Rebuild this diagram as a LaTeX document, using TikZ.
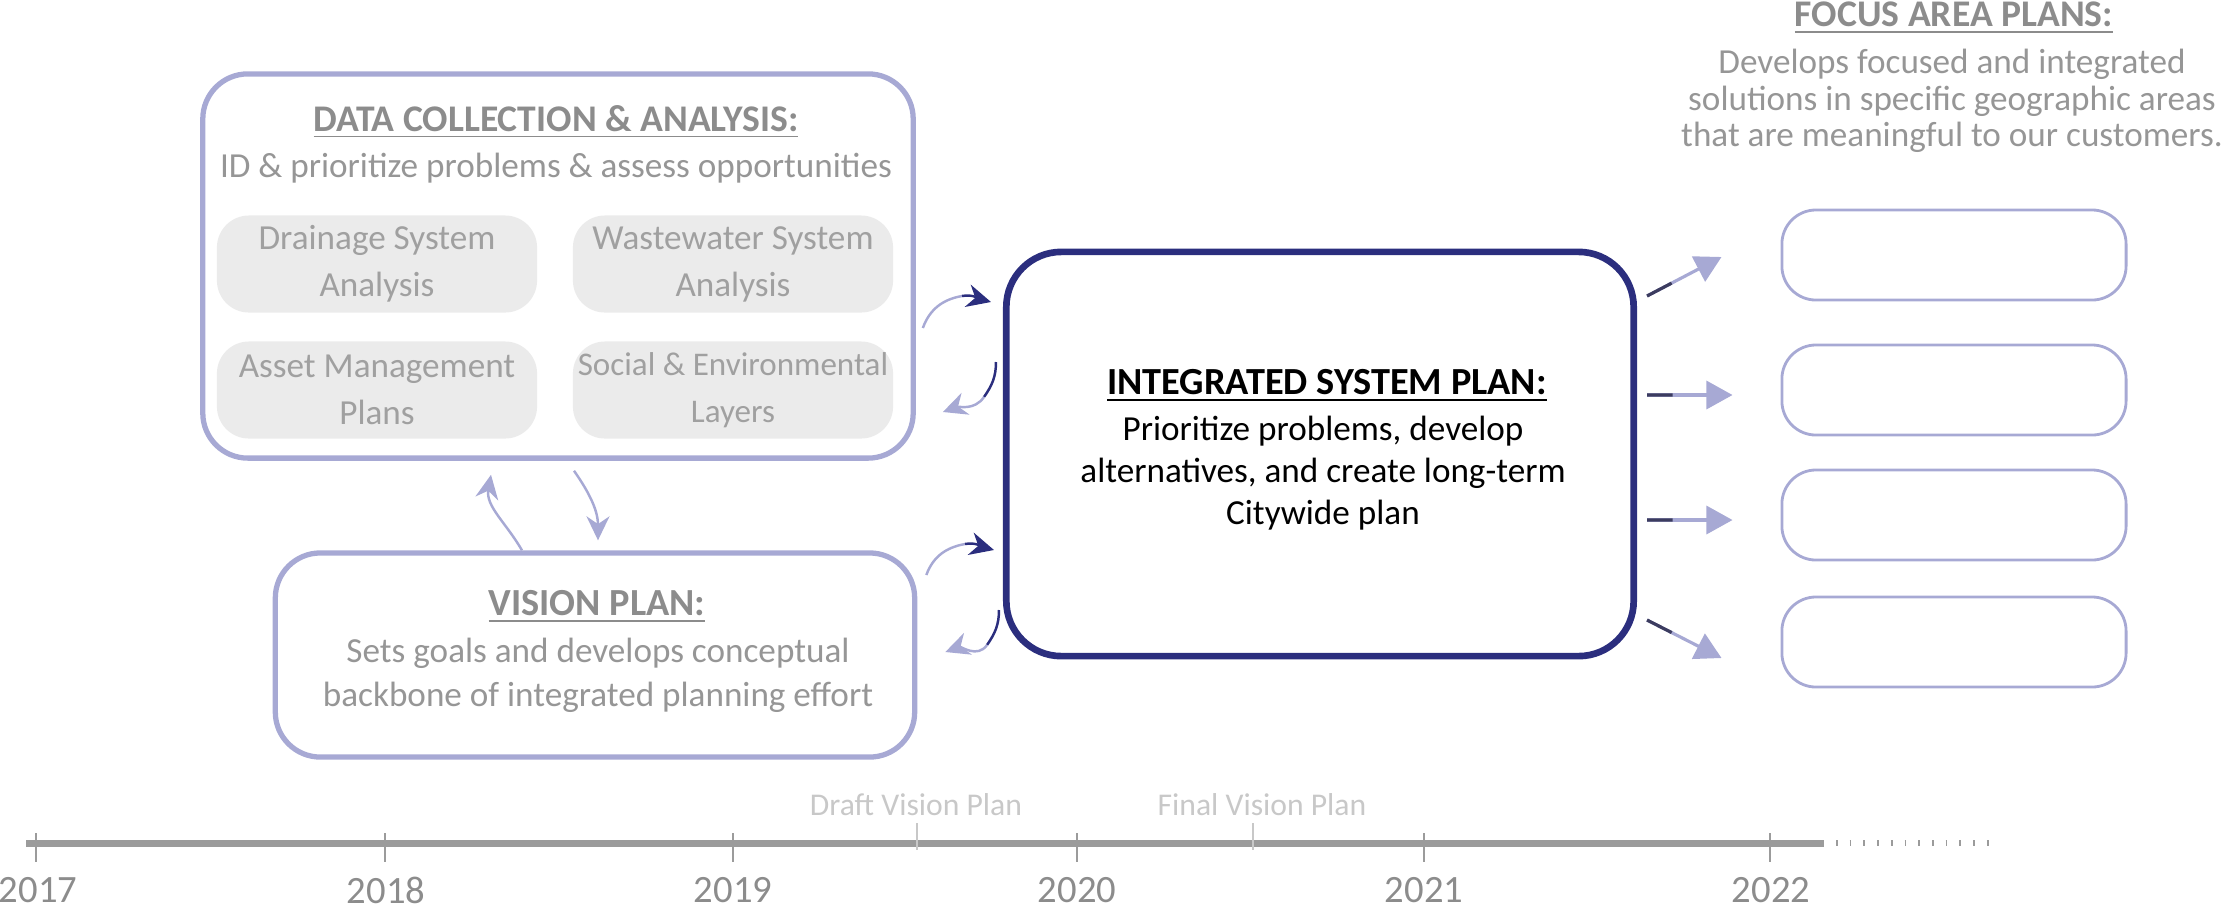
\documentclass[tikz,border=0pt]{standalone}
\usepackage{fontspec}
\setmainfont{Carlito}
\usepackage{tikz}
\usetikzlibrary{positioning, arrows.meta, calc}

\definecolor{lavender}{RGB}{167,169,212}
\definecolor{navyblue}{RGB}{43,46,126}
\definecolor{titlegray}{RGB}{140,140,140}
\definecolor{textgray}{RGB}{150,150,150}
\definecolor{subgray}{RGB}{160,160,160}
\definecolor{subfill}{RGB}{235,235,235}
\definecolor{axisgray}{RGB}{155,155,155}
\definecolor{notegray}{RGB}{200,200,200}
\definecolor{stubgray}{RGB}{60,60,95}

\newcommand{\graytext}{\fontsize{10}{12.5}\selectfont}
\newcommand{\headtext}{\fontsize{10.7}{12.5}\selectfont\bfseries}
\newcommand{\ispfont}{\fontsize{10}{12}\selectfont}

\begin{document}
\begin{tikzpicture}[x=0.01cm, y=0.01cm,
        every node/.style={inner sep=0pt, align=center, text=textgray, font=\graytext}, % Text style
        heading/.style={text=titlegray, font=\headtext}, % Underlined titles
        bigbox/.style={draw=lavender, line width=1.5pt, rounded corners=0.45cm},
        subbox/.style={fill=subfill, rounded corners=0.32cm, minimum width=3.2cm, minimum height=0.97cm,
            text=subgray, font=\fontsize{10}{13.4}\selectfont},
        focusbox/.style={draw=lavender, line width=0.8pt, rounded corners=0.34cm, minimum width=3.44cm, minimum height=0.9cm},
        swing/.style={lavender, line width=0.7pt}, % Curved connectors
        tipL/.style={-{Stealth[length=0.24cm, width=0.23cm, color=lavender]}},
        tipN/.style={-{Stealth[length=0.24cm, width=0.23cm, color=navyblue]}},
        outarrow/.style={lavender, line width=0.9pt, -{Triangle[length=0.26cm, width=0.28cm]}},
        outstub/.style={stubgray, line width=0.9pt},
        axis/.style={axisgray, line width=2pt},
        tick/.style={axisgray, line width=0.6pt},
        yearlabel/.style={text=titlegray, font=\fontsize{11}{13}\selectfont},
        milestone/.style={text=notegray, font=\fontsize{9}{11}\selectfont}
    ]

    \useasboundingbox (0,0) rectangle (2229,-911);

    % Data collection box
    \node[bigbox, minimum width=7.1cm, minimum height=3.84cm] (dca) at (558,-266) {};
    \node[heading] (dcahead) at (556,-122) {\underline{DATA COLLECTION \& ANALYSIS:}};
    \node (dcatext) at (556,-168) {ID \& prioritize problems \& assess opportunities};

    % Analysis boxes
    \node[subbox] (drain) at (377,-264) {Drainage System\\Analysis};
    \node[subbox] (waste) at (733,-264) {Wastewater System\\Analysis};
    \node[subbox] (asset) at (377,-390) {Asset Management\\Plans};
    \node[subbox, font=\fontsize{9.4}{13.4}\selectfont] (social) at (733,-390) {Social \& Environmental\\Layers};

    % Vision plan box
    \node[bigbox, minimum width=6.39cm, minimum height=2.04cm] (vis) at (595,-655) {};
    \node[heading, font=\headtext\fontsize{10.9}{12.5}\selectfont] (vishead) at (597,-607) {\underline{VISION PLAN:}};
    \node (vistext) at (598,-675) {Sets goals and develops conceptual\\backbone of integrated planning effort};

    % Integrated system plan box
    \node[draw=navyblue, line width=1.9pt, rounded corners=0.55cm, minimum width=6.27cm, minimum height=4.04cm] (isp) at (1320,-454) {};
    \node[text=black, font=\fontsize{10.9}{12}\selectfont\bfseries] (isphead) at (1327,-386) {\underline{INTEGRATED SYSTEM PLAN:}};
    \node[text=black, font=\ispfont] (isptext) at (1323,-473) {Prioritize problems, develop\\alternatives, and create long-term\\Citywide plan};

    % Focus area plans
    \node[heading] (fahead) at (1954,-18) {\underline{FOCUS AREA PLANS:}};
    \node[font=\fontsize{10}{10.3}\selectfont] (fatext) at (1952,-101) {Develops focused and integrated\\solutions in specific geographic areas\\that are meaningful to our customers.};
    \node[focusbox] (fa1) at (1954,-255) {};
    \node[focusbox] (fa2) at (1954,-390) {};
    \node[focusbox] (fa3) at (1954,-515) {};
    \node[focusbox] (fa4) at (1954,-642) {};

    % Data box <-> vision box
    \draw[swing, tipL] ([xshift=-0.73cm]vis.north) to[out=120, in=-100] ([shift={(-67,-14)}]dca.south);
    \draw[swing, tipL] ([shift={(16,-10)}]dca.south) to[out=-55, in=90] ([shift={(3,10)}]vis.north);

    % Data box <-> integrated plan
    \coordinate (m1) at (962,-296);
    \draw[swing] ([shift={(7,-62)}]dca.east) to[out=70, in=190] (m1);
    \draw[swing, navyblue, tipN] (m1) to[out=10, in=165] ([shift={(-12,152)}]isp.west);
    \coordinate (m2) at (984,-397);
    \draw[swing, navyblue] ([shift={(-7,92)}]isp.west) to[out=-90, in=55] (m2);
    \draw[swing, tipL] (m2) to[out=235, in=20] ([shift={(27,-146)}]dca.east);

    % Vision box <-> integrated plan
    \coordinate (m3) at (965,-544);
    \draw[swing] ([shift={(9,80)}]vis.east) to[out=70, in=190] (m3);
    \draw[swing, navyblue, tipN] (m3) to[out=10, in=165] ([shift={(-9,-96)}]isp.west);
    \coordinate (m4) at (987,-645);
    \draw[swing, navyblue] ([shift={(-4,-156)}]isp.west) to[out=-90, in=55] (m4);
    \draw[swing, tipL] (m4) to[out=235, in=20] ([shift={(28,3)}]vis.east);

    % Integrated plan -> focus areas
    \coordinate (o1) at ([shift={(10,158)}]isp.east);
    \coordinate (o2) at ([shift={(10,59)}]isp.east);
    \coordinate (o3) at ([shift={(10,-66)}]isp.east);
    \coordinate (o4) at ([shift={(10,-166)}]isp.east);
    \draw[outarrow] (o1) -- ([shift={(-59,-2)}]fa1.west);
    \draw[outarrow] (o2) -- ([shift={(-48,-5)}]fa2.west);
    \draw[outarrow] (o3) -- ([shift={(-48,-5)}]fa3.west);
    \draw[outarrow] (o4) -- ([shift={(-59,-16)}]fa4.west);
    \draw[outstub] (o1) -- ($(o1)!0.33!([shift={(-59,-2)}]fa1.west)$);
    \draw[outstub] (o2) -- ($(o2)!0.3!([shift={(-48,-5)}]fa2.west)$);
    \draw[outstub] (o3) -- ($(o3)!0.3!([shift={(-48,-5)}]fa3.west)$);
    \draw[outstub] (o4) -- ($(o4)!0.33!([shift={(-59,-16)}]fa4.west)$);

    % Timeline
    \draw[axis] (26,-843) -- (1824,-843);
    \draw[axisgray, line width=1.6pt, dash pattern=on 0.5pt off 3.4pt] (1836,-843) -- (1998,-843);
    \draw[tick] (36,-833) -- (36,-862);
    \draw[tick] (385,-833) -- (385,-862);
    \draw[tick] (733,-833) -- (733,-862);
    \draw[tick] (1077,-833) -- (1077,-862);
    \draw[tick] (1424,-833) -- (1424,-862);
    \draw[tick] (1770,-833) -- (1770,-862);
    \draw[notegray, line width=0.6pt] (917,-823) -- (917,-850);
    \draw[notegray, line width=0.6pt] (1253,-823) -- (1253,-850);

    % Labels
    \node[yearlabel] (y2017) at (38,-890) {2017};
    \node[yearlabel] (y2018) at (386,-890) {2018};
    \node[yearlabel] (y2019) at (733,-890) {2019};
    \node[yearlabel] (y2020) at (1077,-890) {2020};
    \node[yearlabel] (y2021) at (1424,-890) {2021};
    \node[yearlabel] (y2022) at (1771,-890) {2022};
    \node[milestone] (draft) at (916,-805) {Draft Vision Plan};
    \node[milestone] (final) at (1262,-805) {Final Vision Plan};

\end{tikzpicture}
\end{document}
